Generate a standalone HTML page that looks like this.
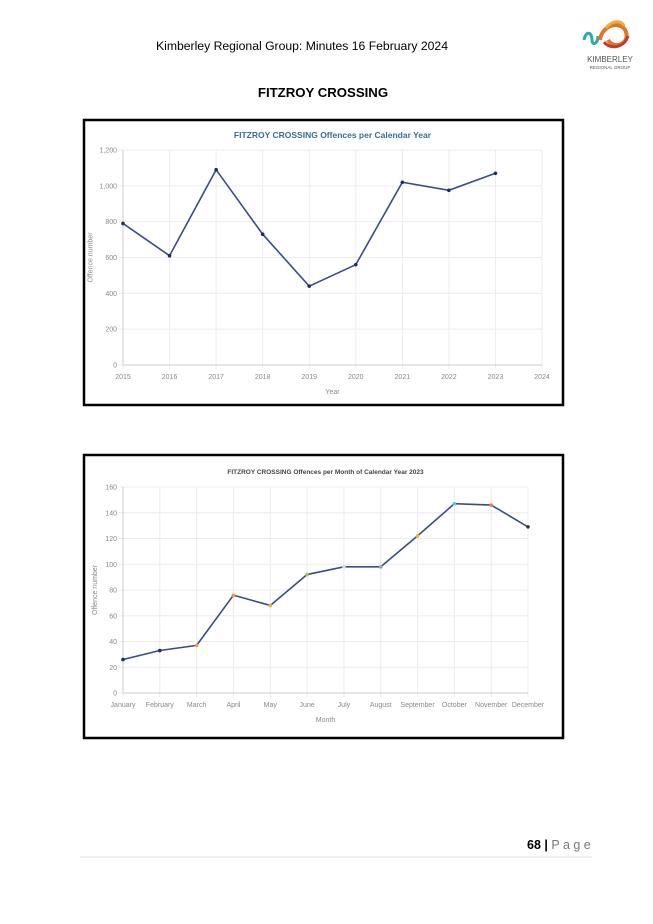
<!DOCTYPE html>
<html><head><meta charset="utf-8"><style>
body{margin:0;width:653px;height:924px;background:#fff;position:relative;font-family:"Liberation Sans",sans-serif;overflow:hidden}
.abs{position:absolute}
svg text{font-family:"Liberation Sans",sans-serif}
</style></head><body>
<div class="abs" style="left:156px;top:39px;font-size:12.2px;color:#000">Kimberley Regional Group: Minutes 16 February 2024</div>
<svg class="abs" style="left:570px;top:10px" width="70" height="66" viewBox="0 0 70 66">
<path d="M14 30 C16 20 22 22 22 30 C22 36 28 34 28 26" stroke="#2aa9b5" stroke-width="3" fill="none"/>
<path d="M30 30 C32 14 52 10 56 22 C60 34 44 40 38 30" stroke="#e0752a" stroke-width="4" fill="none"/>
<path d="M34 32 C40 40 54 38 58 26" stroke="#c23a2a" stroke-width="3" fill="none"/>
<path d="M36 18 C42 10 52 10 54 16" stroke="#e9b13a" stroke-width="3" fill="none"/>
<text x="40" y="52" font-size="8" fill="#555" text-anchor="middle">KIMBERLEY</text>
<text x="40" y="59" font-size="4.5" fill="#555" text-anchor="middle">REGIONAL GROUP</text>
</svg>
<div class="abs" style="left:0;width:646px;text-align:center;top:85px;font-size:13.2px;font-weight:bold">FITZROY CROSSING</div>

<svg class="abs" style="left:0;top:0" width="653" height="924" id="charts">
<rect x="84" y="120" width="479" height="285" fill="#fff" stroke="#000" stroke-width="2.5"/>
<rect x="84" y="455" width="479" height="283" fill="#fff" stroke="#000" stroke-width="2.5"/>
<g id="c1"></g><g id="c2"></g>
<line x1="80" y1="857" x2="592" y2="857" stroke="#ddd" stroke-width="1"/>
</svg>
<div class="abs" style="left:527px;top:838px;font-size:12.5px"><b>68 |</b> <span style="color:#777">P a g e</span></div>

<script>
const years=["2015","2016","2017","2018","2019","2020","2021","2022","2023","2024"];
const yearValues=[790,610,1090,730,440,560,1020,975,1070];
const yearTicks=[0,200,400,600,800,1000,1200];
const yearTickLabels=["0","200","400","600","800","1,000","1,200"];
const months=["January","February","March","April","May","June","July","August","September","October","November","December"];
const monthValues=[26,33,37,76,68,92,98,98,122,147,146,129];
const monthTicks=[0,20,40,60,80,100,120,140,160];
const monthColors=["#1c2b6e","#1c2b6e","#f0a030","#f0a030","#c8c040","#a8c040","#c8dce8","#9aa0b0","#f0b030","#40d0e0","#f08040","#333"];
const NS="http://www.w3.org/2000/svg";
function mk(p,t,a,txt){const e=document.createElementNS(NS,t);for(const k in a)e.setAttribute(k,a[k]);if(txt!==undefined)e.textContent=txt;p.appendChild(e);return e;}

function drawChart(g,o){
  const xs=i=>o.x0+(o.x1-o.x0)*i/(o.cats.length-1);
  const ys=v=>o.y0-(o.y0-o.y1)*v/o.ymax;
  let t=mk(g,'text',{x:(o.x0+o.x1)/2,y:o.titleY,'text-anchor':'middle','font-size':o.titleSize,'font-weight':'bold',fill:o.titleColor},o.title);
  
  
  o.ticks.forEach((v,i)=>{
    const y=ys(v);
    const l=mk(g,'line',{x1:o.x0-4,x2:o.x1,y1:y,y2:y,stroke:'#ececec'});
    
    
    const tx=mk(g,'text',{x:o.x0-6,y:y+2.5,'text-anchor':'end','font-size':7,fill:'#888'},o.tickLabels[i]);
    
    
  });
  o.cats.forEach((c,i)=>{
    const x=xs(i);
    const l=mk(g,'line',{x1:x,x2:x,y1:o.y1,y2:o.y0+4,stroke:'#ececec'});
    
    
    const tx=mk(g,'text',{x:x,y:o.y0+14,'text-anchor':'middle','font-size':7,fill:'#888'},c);
    
    
  });
  mk(g,'line',{x1:o.x0,x2:o.x0,y1:o.y1,y2:o.y0,stroke:'#ccc'});
  mk(g,'line',{x1:o.x0,x2:o.x1,y1:o.y0,y2:o.y0,stroke:'#ccc'});
  const xt=mk(g,'text',{x:(o.x0+o.x1)/2,y:o.y0+29,'text-anchor':'middle','font-size':7,fill:'#888'},o.xTitle);
  
  
  const yt=mk(g,'text',{x:0,y:0,'text-anchor':'middle','font-size':7,fill:'#888',transform:`translate(${o.yTitleX},${(o.y0+o.y1)/2}) rotate(-90)`},'Offence number');
  
  
  const pts=o.vals.map((v,i)=>xs(i)+','+ys(v)).join(' ');
  const pl=mk(g,'polyline',{points:pts,fill:'none',stroke:'#3d4a8a','stroke-width':1.6});
  
  
  o.vals.forEach((v,i)=>{
    const c=mk(g,'circle',{cx:xs(i),cy:ys(v),r:1.8,fill:o.colors?o.colors[i]:'#1c2b6e'});
    
    
  });
}
drawChart(document.getElementById('c1'),{cats:years,vals:yearValues,ticks:yearTicks,tickLabels:yearTickLabels,ymax:1200,x0:123,x1:542,y0:365,y1:150,title:'FITZROY CROSSING Offences per Calendar Year',titleY:138,titleSize:8.5,titleColor:'#3a6b9a',xTitle:'Year',yTitleX:92.5});
drawChart(document.getElementById('c2'),{cats:months,vals:monthValues,ticks:monthTicks,tickLabels:monthTicks.map(String),ymax:160,x0:123,x1:528,y0:693,y1:487,title:'FITZROY CROSSING Offences per Month of Calendar Year 2023',titleY:474,titleSize:6.5,titleColor:'#444',xTitle:'Month',yTitleX:97,colors:monthColors});
</script>
</body></html>
